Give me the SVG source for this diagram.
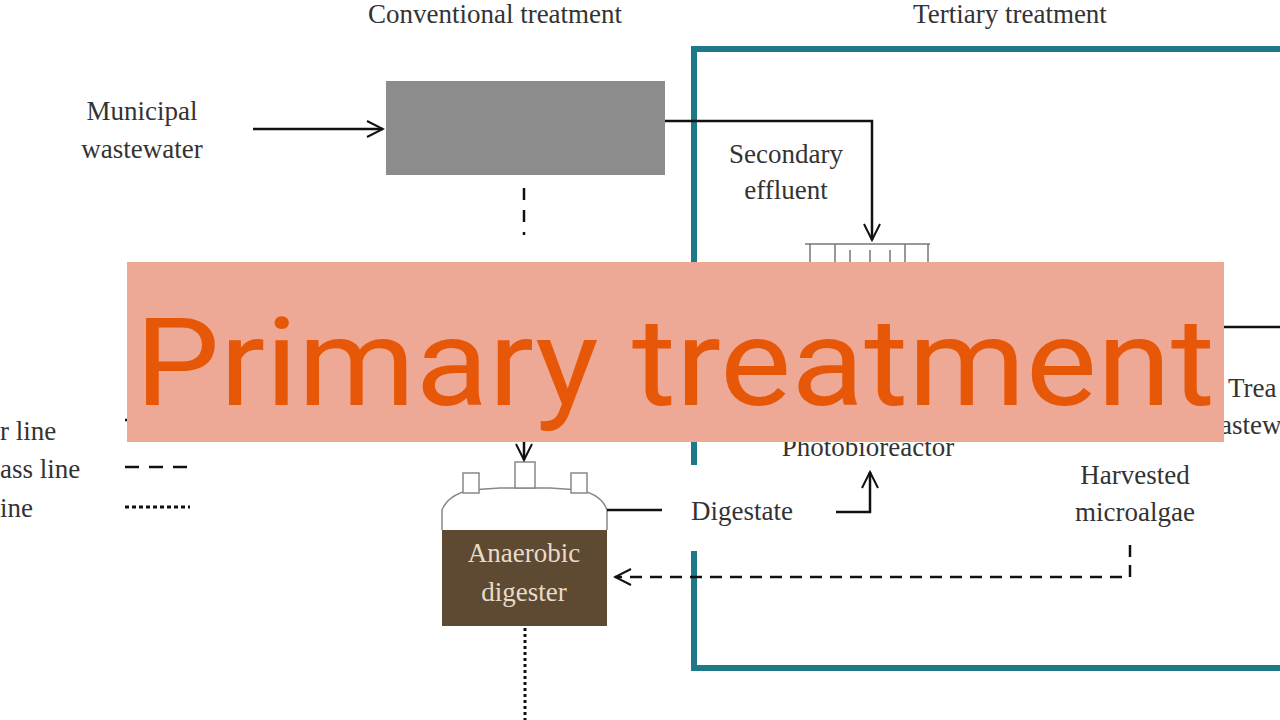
<svg xmlns="http://www.w3.org/2000/svg" width="1280" height="720" viewBox="0 0 1280 720">
<defs>
<style>
.t{font-family:"Liberation Serif",serif;font-size:27px;fill:#333}
.ln{stroke:#111;stroke-width:2.5;fill:none}
.thin{stroke:#777;stroke-width:1.5;fill:none}
</style>
<marker id="ar" viewBox="0 0 20 20" refX="18" refY="10" markerWidth="20" markerHeight="20" markerUnits="userSpaceOnUse" orient="auto"><path d="M2,2 L18,10 L2,18" fill="none" stroke="#111" stroke-width="2"/></marker>
</defs>
<rect width="1280" height="720" fill="#fff"/>
<text class="t" x="495" y="23" text-anchor="middle">Conventional treatment</text>
<text class="t" x="1010" y="23" text-anchor="middle">Tertiary treatment</text>
<g id="tertiary-box" fill="none" stroke="#1e7888" stroke-width="6">
<path d="M694,465 L694,49 L1285,49"/>
<path d="M694,551 L694,668 L1285,668"/>
</g>
<g id="municipal"><text class="t" x="142" y="120" text-anchor="middle">Municipal</text><text class="t" x="142" y="158" text-anchor="middle">wastewater</text></g>
<g id="conventional"><rect x="386" y="81" width="279" height="94" fill="#8c8c8c"/></g>
<g id="effluent-label"><text class="t" x="786" y="163" text-anchor="middle">Secondary</text><text class="t" x="786" y="199" text-anchor="middle">effluent</text></g>
<g id="photobioreactor">
<path class="thin" d="M805,244 L930,244 M810,244 L810,262 M835,244 L835,262 M850,250 L850,262 M870,250 L870,262 M890,250 L890,262 M905,244 L905,262 M928,244 L928,262"/>
<text class="t" x="868" y="456" text-anchor="middle">Photobioreactor</text>
</g>
<g id="digester">
<path d="M442,530 L442,510 Q448,495 470,490 L500,488 L550,488 L580,490 Q602,495 607,510 L607,530" fill="#fff" stroke="#888" stroke-width="1.5"/>
<rect x="463" y="473" width="16" height="20" fill="#fff" stroke="#888" stroke-width="1.5"/>
<rect x="515" y="462" width="20" height="26" fill="#fff" stroke="#888" stroke-width="1.5"/>
<rect x="571" y="473" width="16" height="20" fill="#fff" stroke="#888" stroke-width="1.5"/>
<rect x="442" y="530" width="165" height="96" fill="#5e4a33"/>
<text class="t" x="524" y="562" text-anchor="middle" style="fill:#e8dcc8">Anaerobic</text>
<text class="t" x="524" y="601" text-anchor="middle" style="fill:#e8dcc8">digester</text>
</g>
<g id="digestate-label"><text class="t" x="742" y="520" text-anchor="middle">Digestate</text></g>
<g id="harvested"><text class="t" x="1135" y="484" text-anchor="middle">Harvested</text><text class="t" x="1135" y="521" text-anchor="middle">microalgae</text></g>
<g id="treated"><text class="t" x="1228" y="397">Trea</text><text class="t" x="1220" y="434">astew</text></g>
<g id="legend">
<text class="t" x="0" y="440">r line</text>
<text class="t" x="0" y="478">ass line</text>
<text class="t" x="0" y="517">ine</text>
<path class="ln" d="M125,467 L190,467" stroke-dasharray="14,10" stroke-width="3"/>
<path d="M125,507 L190,507" stroke="#111" stroke-width="3" stroke-dasharray="4,3"/>
</g>
<g id="connectors">
<path class="ln" d="M253,129 L383,129" marker-end="url(#ar)"/>
<path class="ln" d="M665,121 L872,121 L872,240" marker-end="url(#ar)"/>
<path class="ln" d="M524,188 L524,235" stroke-dasharray="12,10" stroke-width="4"/>
<path class="ln" d="M1222,327 L1285,327"/>
<path class="ln" d="M607,510 L662,510"/>
<path class="ln" d="M836,512 L870,512 L870,472" marker-end="url(#ar)"/>
<path class="ln" d="M1130,545 L1130,577 L615,577" stroke-dasharray="12,8" marker-end="url(#ar)"/>
<path d="M525,628 L525,720" stroke="#111" stroke-width="3" stroke-dasharray="3,3"/>
<path class="ln" d="M524,442 L524,460" marker-end="url(#ar)"/>
<path class="ln" d="M125,420 L130,420"/>
</g>
<g id="banner">
<rect x="127" y="262" width="1097" height="180" fill="#eda896"/>
<text x="135" y="405" font-family="Roboto,sans-serif" font-size="122" fill="#e65808" textLength="1080" lengthAdjust="spacingAndGlyphs">Primary treatment</text>
</g>
</svg>
